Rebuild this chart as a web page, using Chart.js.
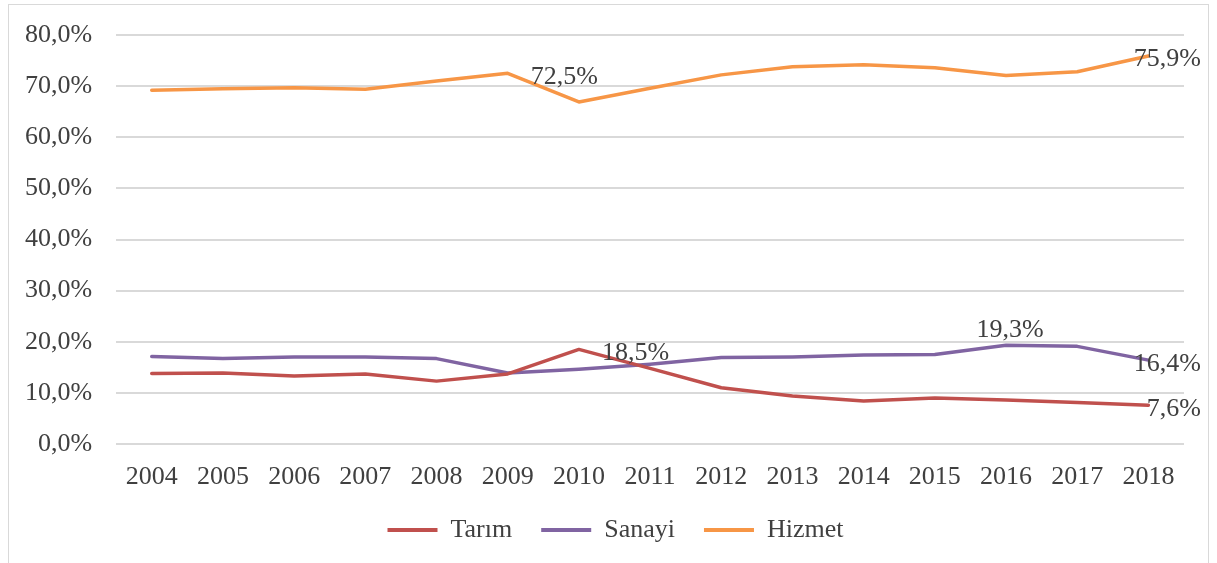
<!DOCTYPE html>
<html><head><meta charset="utf-8">
<script src="https://cdn.jsdelivr.net/npm/chart.js@4.4.0/dist/chart.umd.min.js"></script>
<style>
html,body{margin:0;padding:0;background:#fff;width:1217px;height:563px;overflow:hidden;}
#frame{position:absolute;left:8px;top:4px;width:1201px;height:620px;border:1px solid #d9d9d9;box-sizing:border-box;}
#wrap{position:absolute;left:0;top:0;width:1217px;height:563px;}
</style></head><body>
<div id="frame"></div>
<div id="wrap"><canvas id="c" width="1217" height="563"></canvas></div>
<script>
const years = ['2004','2005','2006','2007','2008','2009','2010','2011','2012','2013','2014','2015','2016','2017','2018'];
const tarim  = [13.8, 13.9, 13.3, 13.7, 12.3, 13.7, 18.5, 14.8, 11.0, 9.4, 8.4, 9.0, 8.6, 8.1, 7.6];
const sanayi = [17.1, 16.7, 17.0, 17.0, 16.7, 13.9, 14.6, 15.6, 16.9, 17.0, 17.4, 17.5, 19.3, 19.1, 16.4];
const hizmet = [69.2, 69.5, 69.7, 69.4, 71.0, 72.5, 66.9, 69.6, 72.2, 73.8, 74.2, 73.6, 72.1, 72.8, 75.9];
const seriesNames = ['Tarım', 'Sanayi', 'Hizmet'];
const yMin = 0, yMax = 80, yStep = 10;
// which points carry a value label: [series index, point index, placement]
const labelPoints = [
  [2, 5, 'right'], [2, 14, 'right'],
  [0, 6, 'right'], [0, 14, 'right'],
  [1, 12, 'above'], [1, 14, 'right']
];

const colors = ['#c0504d', '#8064a2', '#f79646'];
const textColor = '#404040';
const fontFamily = '"Liberation Serif", "Times New Roman", serif';
const fmt = v => v.toFixed(1).replace('.', ',') + '%';

const dataLabelPlugin = {
  id: 'dl',
  afterDatasetsDraw(chart) {
    const ctx = chart.ctx;
    ctx.save();
    ctx.font = '26px ' + fontFamily;
    ctx.fillStyle = textColor;
    ctx.textBaseline = 'alphabetic';
    labelPoints.forEach(([s, i, pos]) => {
      const el = chart.getDatasetMeta(s).data[i];
      const txt = fmt(chart.data.datasets[s].data[i]);
      const w = ctx.measureText(txt).width;
      let x, y;
      if (pos === 'right') {
        x = el.x + 23; y = el.y + 10.5;
        if (x + w > chart.width - 16) x = chart.width - 16 - w;
      } else {
        x = el.x + 4 - w / 2; y = el.y - 8.5;
      }
      ctx.fillText(txt, x, y);
    });
    ctx.restore();
  }
};

// nudge the legend block to the reference position
const legendShift = { dx: 23, dy: -6 };
const legendPlace = {
  id: 'legendPlace',
  afterLayout(chart) {
    const lg = chart.legend;
    if (!lg) return;
    lg.left += legendShift.dx; lg.right += legendShift.dx;
    lg.top += legendShift.dy; lg.bottom += legendShift.dy;
  }
};

const seriesData = [tarim, sanayi, hizmet];
new Chart(document.getElementById('c'), {
  type: 'line',
  data: {
    labels: years,
    datasets: seriesData.map((d, k) => ({
      label: seriesNames[k],
      data: d,
      borderColor: colors[k],
      backgroundColor: colors[k],
      borderWidth: 3.5,
      pointRadius: 0,
      pointHoverRadius: 0,
      tension: 0,
      fill: false,
      borderJoinStyle: 'round',
      borderCapStyle: 'round'
    }))
  },
  options: {
    responsive: false,
    animation: false,
    devicePixelRatio: 1,
    layout: { padding: { left: 1, right: 33, top: 35, bottom: 4 } },
    scales: {
      x: {
        offset: true,
        grid: { display: false, drawTicks: false },
        border: { display: false },
        ticks: { color: textColor, font: { family: fontFamily, size: 26 }, padding: 18, maxRotation: 0, autoSkip: false },
        afterFit: s => { s.height = 50; }
      },
      y: {
        min: yMin, max: yMax,
        grid: { color: '#d9d9d9', lineWidth: 2, drawTicks: false },
        border: { display: false },
        ticks: { stepSize: yStep, color: textColor, font: { family: fontFamily, size: 26 }, padding: 24,
                 callback: v => fmt(v) },
        afterFit: s => { s.paddingTop = 0; s.paddingBottom = 0; }
      }
    },
    plugins: {
      legend: {
        position: 'bottom',
        labels: {
          color: textColor,
          font: { family: fontFamily, size: 26 },
          boxWidth: 50, boxHeight: 4, padding: 29,
          generateLabels(chart) {
            const items = Chart.defaults.plugins.legend.labels.generateLabels(chart);
            items.forEach(it => { it.lineWidth = 0; it.fillStyle = it.strokeStyle; });
            return items;
          }
        }
      },
      tooltip: { enabled: false },
      title: { display: false }
    }
  },
  plugins: [dataLabelPlugin, legendPlace]
});
</script>
</body></html>
